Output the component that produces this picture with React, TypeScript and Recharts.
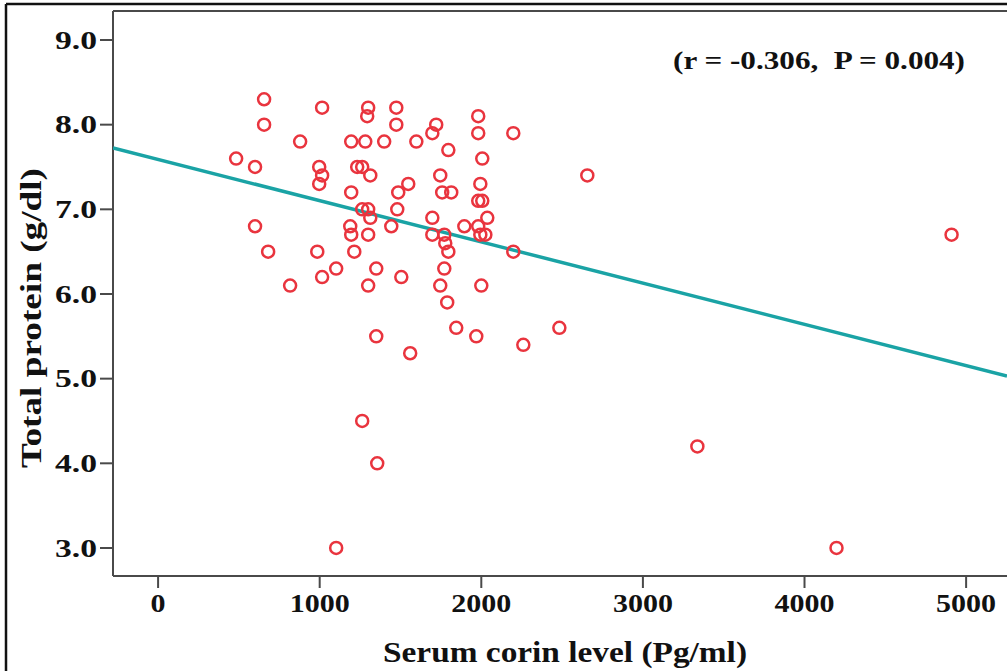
import React from 'react';
import { ScatterChart, Scatter, XAxis, YAxis, ReferenceLine } from 'recharts';

// serum corin (pg/ml) and total protein (g/dl)
const corin = [
  483, 656, 656, 600, 600, 681, 817, 879, 1015, 997,
  1015, 997, 985, 1015, 1102, 1102, 1195, 1195, 1189, 1195,
  1214, 1232, 1263, 1263, 1263, 1282, 1300, 1294, 1300, 1313,
  1300, 1300, 1313, 1350, 1350, 1356, 1399, 1443, 1474, 1474,
  1480, 1486, 1505, 1548, 1560, 1598, 1697, 1721, 1697, 1697,
  1746, 1758, 1746, 1771, 1777, 1771, 1796, 1789, 1796, 1814,
  1845, 1895, 1969, 1981, 1981, 1994, 1981, 2006, 1981, 1994,
  2025, 2006, 2037, 2000, 2198, 2198, 2260, 2483, 2656, 3337,
  4198, 4910,
];
const protein = [
  7.6, 8.3, 8.0, 7.5, 6.8, 6.5, 6.1, 7.8, 8.2, 7.5,
  7.4, 7.3, 6.5, 6.2, 6.3, 3.0, 7.8, 7.2, 6.8, 6.7,
  6.5, 7.5, 7.5, 7.0, 4.5, 7.8, 8.2, 8.1, 7.0, 7.4,
  6.7, 6.1, 6.9, 6.3, 5.5, 4.0, 7.8, 6.8, 8.2, 8.0,
  7.0, 7.2, 6.2, 7.3, 5.3, 7.8, 7.9, 8.0, 6.9, 6.7,
  7.4, 7.2, 6.1, 6.7, 6.6, 6.3, 6.5, 5.9, 7.7, 7.2,
  5.6, 6.8, 5.5, 8.1, 7.9, 7.3, 7.1, 7.1, 6.8, 6.7,
  6.7, 7.6, 6.9, 6.1, 7.9, 6.5, 5.4, 5.6, 7.4, 4.2,
  3.0, 6.7,
];

const xTicks = [0, 1000, 2000, 3000, 4000, 5000];
const yTicks = [3, 4, 5, 6, 7, 8, 9];
const xDomain = [-279, 5253];
const yDomain = [2.669, 9.3425];

// fit line
const intercept = 7.589;
const slope = -0.000487;

const points = corin.map((c, i) => ({ x: c, y: protein[i] }));
const fitLine = xDomain.map((x) => ({ x, y: intercept + slope * x }));

const RED = '#e9343e';
const TEAL = '#1aa3a5';
const AXIS = '#4a4a4a';
const txt = { fontFamily: "'Liberation Serif', 'Times New Roman', serif", fontWeight: 700 } as const;

const Ring = (props: any) => (
  <circle cx={props.cx} cy={props.cy} r={6} fill="none" stroke={RED} strokeWidth={2.5} />
);

const XTick = (props: any) => {
  const s = String(props.payload.value);
  return (
    <text x={props.x} y={props.y} dy="0.71em" textAnchor="middle" style={txt}
      fontSize={26} fill="#111" textLength={s.length * 15} lengthAdjust="spacingAndGlyphs">
      {s}
    </text>
  );
};

const YTick = (props: any) => {
  const s = Number(props.payload.value).toFixed(1);
  return (
    <text x={props.x} y={props.y} dy="0.35em" textAnchor="end" style={txt}
      fontSize={25} fill="#111" textLength={42} lengthAdjust="spacingAndGlyphs">
      {s}
    </text>
  );
};

const App: React.FC = () => {
  return (
    <div style={{ position: 'fixed', left: 0, top: 0, width: 1007, height: 671, background: '#fff' }}>
      <ScatterChart width={1007} height={671} margin={{ top: 11, right: 0, bottom: 0, left: 0 }}>
        <XAxis
          type="number"
          dataKey="x"
          domain={xDomain}
          ticks={xTicks}
          allowDataOverflow
          height={95}
          tickSize={12}
          tickMargin={6}
          axisLine={{ stroke: AXIS, strokeWidth: 2 }}
          tickLine={{ stroke: AXIS, strokeWidth: 2 }}
          tick={<XTick />}
          label={{
            content: () => (
              <text x={565} y={652} dy="0.35em" textAnchor="middle" style={txt}
                fontSize={29} fill="#111" textLength={364} lengthAdjust="spacingAndGlyphs">
                Serum corin level (Pg/ml)
              </text>
            ),
          }}
        />
        <YAxis
          type="number"
          dataKey="y"
          domain={yDomain}
          ticks={yTicks}
          allowDataOverflow
          width={113}
          tickSize={13}
          tickMargin={3}
          axisLine={{ stroke: AXIS, strokeWidth: 2 }}
          tickLine={{ stroke: AXIS, strokeWidth: 2 }}
          tick={<YTick />}
          label={{
            content: () => (
              <text x={31} y={318} dy="0.35em" textAnchor="middle" style={txt}
                fontSize={29} fill="#111" textLength={300} lengthAdjust="spacingAndGlyphs"
                transform="rotate(-90 31 318)">
                Total protein (g/dl)
              </text>
            ),
          }}
        />
        <ReferenceLine y={yDomain[1]} stroke={AXIS} strokeWidth={2} ifOverflow="visible" />
        <Scatter data={fitLine} line={{ stroke: TEAL, strokeWidth: 3.5 }} shape={() => null} isAnimationActive={false} />
        <Scatter data={points} shape={<Ring />} isAnimationActive={false} />
      </ScatterChart>
      <svg width={1007} height={671} style={{ position: 'absolute', left: 0, top: 0, pointerEvents: 'none' }}>
        <line x1={6} y1={4} x2={1007} y2={4} stroke="#111" strokeWidth={2.5} />
        <line x1={6} y1={4} x2={6} y2={671} stroke="#111" strokeWidth={2.5} />
        <text x={819} y={60} dy="0.35em" textAnchor="middle" style={{ ...txt, whiteSpace: 'pre' }}
          fontSize={26} fill="#111" textLength={292} lengthAdjust="spacingAndGlyphs">
          (r = -0.306,  P = 0.004)
        </text>
      </svg>
    </div>
  );
};

export default App;
